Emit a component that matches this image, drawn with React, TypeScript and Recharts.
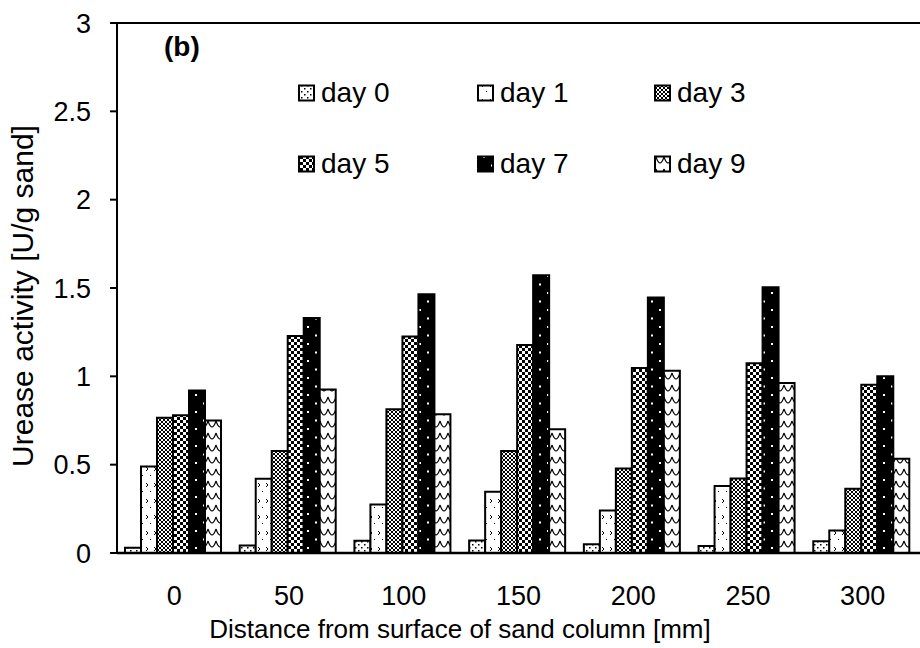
import React from "react";
import { BarChart, Bar, XAxis, YAxis, ReferenceLine } from "recharts";

// Distance from the sand-column surface (mm)
const categories = ["0", "50", "100", "150", "200", "250", "300"];

// Urease activity [U/g sand] per sampling day
const day0 = [0.03, 0.043, 0.07, 0.071, 0.049, 0.039, 0.067];
const day1 = [0.49, 0.42, 0.275, 0.347, 0.241, 0.379, 0.128];
const day3 = [0.766, 0.577, 0.813, 0.577, 0.479, 0.422, 0.364];
const day5 = [0.78, 1.228, 1.226, 1.177, 1.047, 1.074, 0.953];
const day7 = [0.92, 1.33, 1.464, 1.572, 1.446, 1.504, 1.0];
const day9 = [0.75, 0.926, 0.785, 0.7, 1.032, 0.962, 0.534];

const yTicks = [0, 0.5, 1, 1.5, 2, 2.5, 3];

const seriesNames = ["day 0", "day 1", "day 3", "day 5", "day 7", "day 9"];
const seriesKeys = ["d0", "d1", "d3", "d5", "d7", "d9"];
const seriesValues = [day0, day1, day3, day5, day7, day9];

const data = categories.map((cat, i) => {
  const row: Record<string, string | number> = { cat };
  seriesKeys.forEach((k, s) => {
    row[k] = seriesValues[s][i];
  });
  return row;
});

const FONT = "'Liberation Sans', Arial, Helvetica, sans-serif";

const Patterns = () => (
  <defs>
    <pattern id="p-d0" patternUnits="userSpaceOnUse" width="6" height="6">
      <rect width="6" height="6" fill="#fff" />
      <rect x="1" y="1" width="1.5" height="1.5" fill="#000" />
      <rect x="4" y="4" width="1.5" height="1.5" fill="#000" />
    </pattern>
    <pattern id="p-d1" patternUnits="userSpaceOnUse" width="8" height="16">
      <rect width="8" height="16" fill="#fff" />
      <path d="M2 3 L4 5 L2 7" stroke="#000" strokeWidth="1" fill="none" />
      <path d="M6 11 L7 12" stroke="#000" strokeWidth="1" fill="none" />
    </pattern>
    <pattern id="p-d3" patternUnits="userSpaceOnUse" width="4" height="4">
      <rect width="4" height="4" fill="#fff" />
      <path d="M0 0 L4 4 M4 0 L0 4" stroke="#000" strokeWidth="1" />
    </pattern>
    <pattern id="p-d5" patternUnits="userSpaceOnUse" width="6" height="6">
      <rect width="6" height="6" fill="#fff" />
      <rect x="0" y="0" width="3" height="3" fill="#000" />
      <rect x="3" y="3" width="3" height="3" fill="#000" />
    </pattern>
    <pattern id="p-d7" patternUnits="userSpaceOnUse" width="16" height="17">
      <rect width="16" height="17" fill="#000" />
      <rect x="3" y="3" width="2" height="2" fill="#fff" />
      <rect x="11" y="11.5" width="2" height="2" fill="#fff" />
    </pattern>
    <pattern id="p-d9" patternUnits="userSpaceOnUse" width="8" height="12">
      <rect width="8" height="12" fill="#fff" />
      <path d="M0 1 Q4 13 8 1" stroke="#000" strokeWidth="1.2" fill="none" />
    </pattern>
  </defs>
);

const legendCols = [298, 477, 654];
const legendRows = [93, 164];

export default function App() {
  return (
    <div
      style={{
        position: "absolute",
        left: 0,
        top: 0,
        width: 920,
        height: 648,
        background: "#fff",
        overflow: "hidden",
      }}
    >
      <BarChart
        width={920}
        height={648}
        data={data}
        margin={{ top: 23, right: 0, bottom: 0, left: 57 }}
        barCategoryGap={8}
        barGap={0}
      >
        <XAxis
          dataKey="cat"
          height={95}
          axisLine={{ stroke: "#000", strokeWidth: 2.5 }}
          tickLine={false}
          tickMargin={27}
          tick={{ fill: "#000", fontSize: 27, fontFamily: FONT }}
        />
        <YAxis
          width={60}
          domain={[0, 3]}
          ticks={yTicks}
          interval={0}
          axisLine={{ stroke: "#000", strokeWidth: 2 }}
          tickLine={{ stroke: "#000", strokeWidth: 2 }}
          tickSize={7}
          tickMargin={19}
          tick={{ fill: "#000", fontSize: 27, fontFamily: FONT }}
        />
        <ReferenceLine y={3} stroke="#000" strokeWidth={2} />
        {seriesKeys.map((k) => (
          <Bar
            key={k}
            dataKey={k}
            fill={`url(#p-${k})`}
            stroke="#000"
            strokeWidth={2}
            isAnimationActive={false}
          />
        ))}
      </BarChart>
      <svg
        width={920}
        height={648}
        style={{ position: "absolute", left: 0, top: 0, pointerEvents: "none" }}
        fontFamily={FONT}
      >
        <Patterns />
        <text x={164} y={56} fontSize={28} fontWeight="bold" fill="#000">
          (b)
        </text>
        {seriesNames.map((name, i) => {
          const cx = legendCols[i % 3];
          const cy = legendRows[Math.floor(i / 3)];
          return (
            <g key={name}>
              <rect
                x={cx + 1}
                y={cy - 7.5}
                width={15}
                height={15}
                fill={`url(#p-${seriesKeys[i]})`}
                stroke="#000"
                strokeWidth={2}
              />
              <text x={cx + 23} y={cy + 9} fontSize={28} fill="#000">
                {name}
              </text>
            </g>
          );
        })}
        <text
          x={33}
          y={296}
          fontSize={30}
          fill="#000"
          textAnchor="middle"
          transform="rotate(-90, 33, 296)"
        >
          Urease activity [U/g sand]
        </text>
        <text x={460} y={638} fontSize={26} fill="#000" textAnchor="middle">
          Distance from surface of sand column [mm]
        </text>
      </svg>
    </div>
  );
}
